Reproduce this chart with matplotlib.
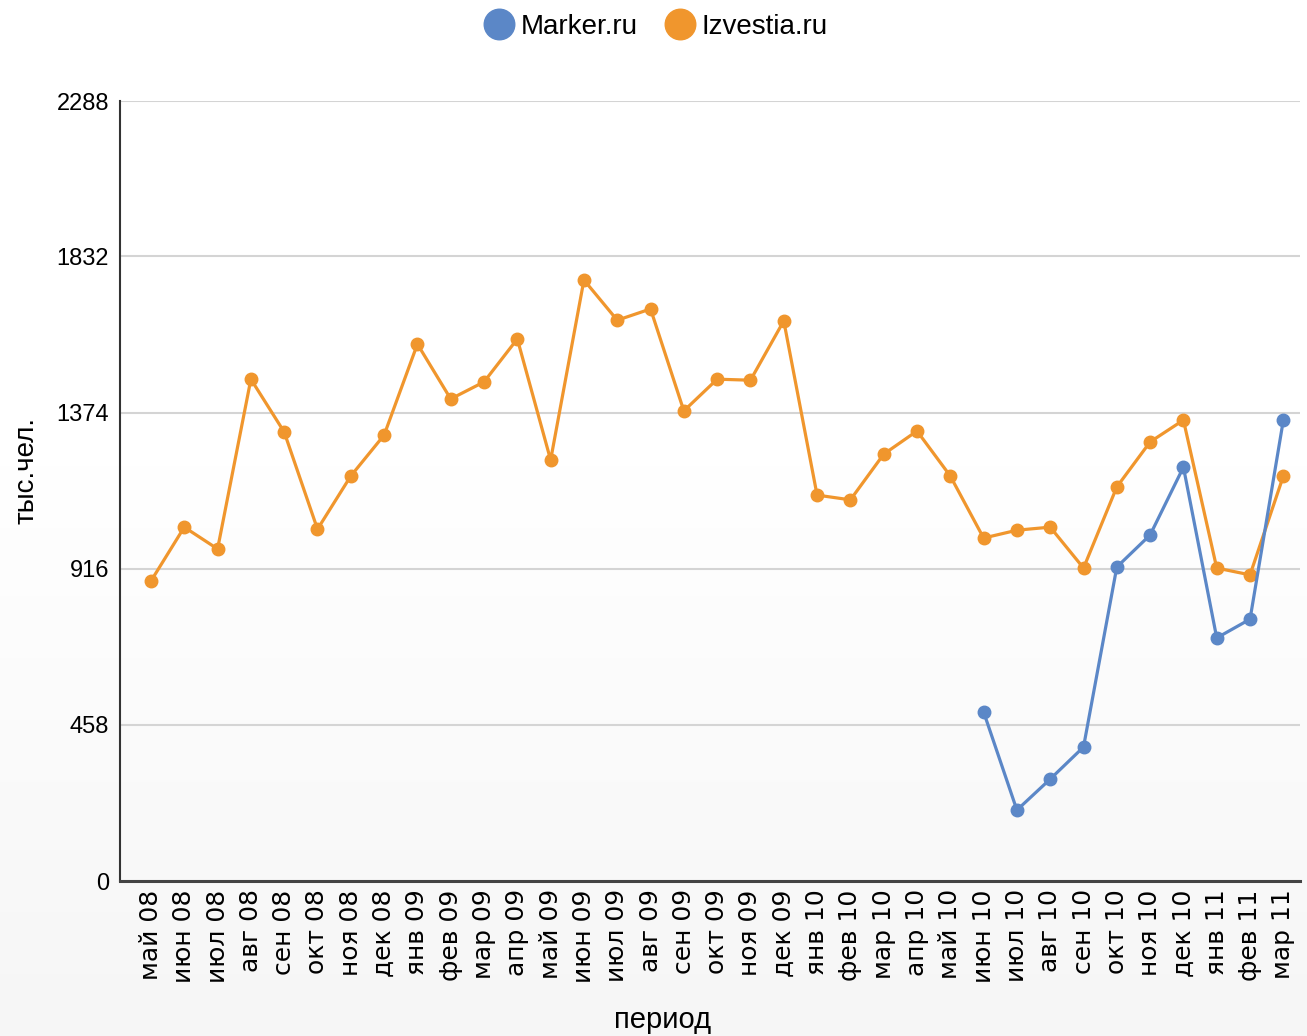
import matplotlib
matplotlib.use("Agg")
import matplotlib.pyplot as plt
import numpy as np
from matplotlib.lines import Line2D

plt.rcParams['font.family'] = ['Liberation Sans', 'DejaVu Sans']

months = ["май 08", "июн 08", "июл 08", "авг 08", "сен 08", "окт 08", "ноя 08", "дек 08",
          "янв 09", "фев 09", "мар 09", "апр 09", "май 09", "июн 09", "июл 09", "авг 09",
          "сен 09", "окт 09", "ноя 09", "дек 09", "янв 10", "фев 10", "мар 10", "апр 10",
          "май 10", "июн 10", "июл 10", "авг 10", "сен 10", "окт 10", "ноя 10", "дек 10",
          "янв 11", "фев 11", "мар 11"]

izvestia = [880, 1038, 974, 1472, 1317, 1032, 1188, 1308,
            1575, 1414, 1464, 1590, 1235, 1763, 1645, 1678,
            1379, 1472, 1469, 1643, 1132, 1118, 1252, 1320,
            1188, 1006, 1029, 1038, 918, 1156, 1288, 1352,
            918, 898, 1188]

marker_months = ["июн 10", "июл 10", "авг 10", "сен 10", "окт 10", "ноя 10", "дек 10",
                 "янв 11", "фев 11", "мар 11"]
marker = [496, 208, 299, 393, 921, 1015, 1214, 713, 768, 1352]

yticks = [0, 458, 916, 1374, 1832, 2288]

BLUE = "#5b87c7"
ORANGE = "#f0962d"

fig = plt.figure(figsize=(13.07, 10.36), dpi=100)

# background gradient
bg = fig.add_axes([0, 0, 1, 1], zorder=-10)
grad = np.ones((200, 1, 3))
t = np.linspace(0, 1, 200)
level = np.where(t < 0.45, 1.0, 1.0 - (t - 0.45) / 0.55 * 0.035)
grad[:, 0, :] = level[:, None]
bg.imshow(grad, aspect='auto', extent=[0, 1, 0, 1], origin='upper')
bg.set_axis_off()

W, H = 1307, 1036
left, right, top, bottom = 120, 1300, 101, 881
ax = fig.add_axes([left / W, 1 - bottom / H, (right - left) / W, (bottom - top) / H])
ax.patch.set_alpha(0)

x_all = np.arange(len(months))
x_marker = np.array([months.index(m) for m in marker_months])

ax.plot(x_all, izvestia, color=ORANGE, lw=2.3, marker='o', ms=9, zorder=3)
ax.plot(x_marker, marker, color=BLUE, lw=2.3, marker='o', ms=9, zorder=4)

ax.set_xlim(-0.93, 34.5)
ax.set_ylim(0, 2288)
ax.set_yticks(yticks)
ax.set_yticklabels([str(v) for v in yticks], fontsize=17)
ax.set_xticks(x_all)
ax.set_xticklabels(months, rotation=90, fontsize=18, family='DejaVu Sans')
ax.tick_params(axis='y', length=0, pad=8)
ax.tick_params(axis='x', length=0, pad=6)
ax.grid(axis='y', color='#d4d4d4', lw=1.5)
ax.set_axisbelow(True)
for s in ['top', 'right']:
    ax.spines[s].set_visible(False)
ax.spines['left'].set_color('#333333')
ax.spines['left'].set_linewidth(1.5)
ax.spines['bottom'].set_color('#444444')
ax.spines['bottom'].set_linewidth(2.2)

fig.text(27 / W, 1 - 470 / H, "тыс.чел.", rotation=90, fontsize=20, ha='center', va='center')
fig.text(663 / W, 1 - 1020 / H, "период", fontsize=21, ha='center', va='center')

handles = [Line2D([], [], color=BLUE, marker='o', ms=22, lw=0),
           Line2D([], [], color=ORANGE, marker='o', ms=22, lw=0)]
fig.legend(handles, ["Marker.ru", "Izvestia.ru"], loc='center', bbox_to_anchor=(655 / W, 1 - 27 / H),
           ncol=2, frameon=False, fontsize=20, handletextpad=0.2, columnspacing=0.9,
           handlelength=1.2)

fig.savefig("out.png", dpi=100)
